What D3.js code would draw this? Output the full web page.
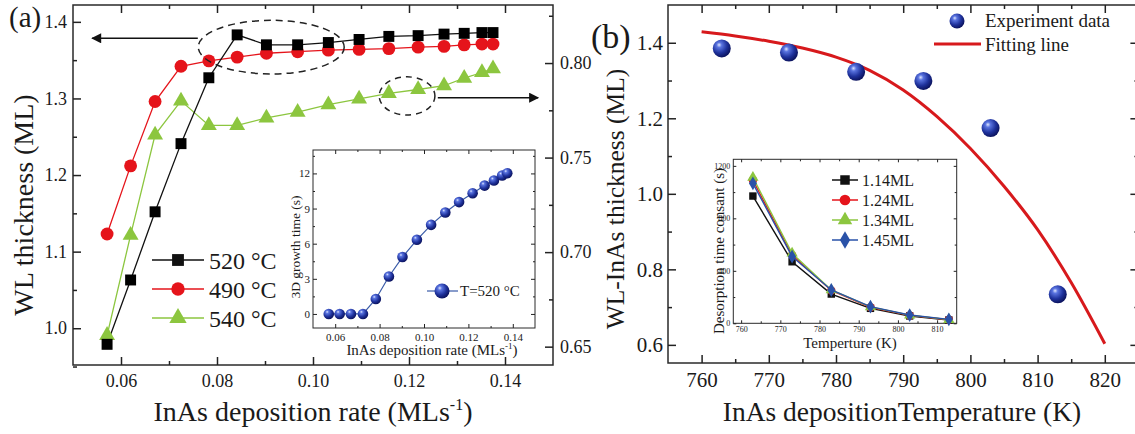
<!DOCTYPE html>
<html>
<head>
<meta charset="utf-8">
<script src="https://cdn.jsdelivr.net/npm/d3@7"></script>
<style>
body { margin: 0; background: #fff; }
svg { display: block; font-family: "Liberation Serif", "Times New Roman", serif; }
</style>
</head>
<body>
<svg id="fig" width="1135" height="434"></svg>
<script>
// ---- panel (a): WL thickness vs InAs deposition rate ----
var rateA  = [0.0571,0.0620,0.0671,0.0725,0.0783,0.0842,0.0903,0.0968,0.1032,0.1096,0.1158,0.1219,0.1273,0.1315,0.1352,0.1375];
var wl520  = [0.979,1.063,1.152,1.241,1.327,1.383,1.370,1.370,1.373,1.377,1.381,1.382,1.384,1.385,1.386,1.386];
var wl490  = [1.123,1.212,1.296,1.342,1.349,1.354,1.359,1.361,1.363,1.364,1.365,1.367,1.368,1.370,1.371,1.371];
var wl540  = [0.656,0.709,0.762,0.780,0.767,0.767,0.771,0.774,0.778,0.781,0.784,0.786,0.788,0.792,0.795,0.797]; // right axis
var legendA = ["520 °C", "490 °C", "540 °C"];

// inset (a): 3D growth time at 520 °C
var growth3D = [0,0,0,0,1.28,3.2,4.86,6.33,7.61,8.66,9.55,10.31,10.96,11.39,11.82,12.02];

// ---- panel (b): WL-InAs thickness vs temperature ----
var tempB  = [763,773,783,793,803,813];
var wlExp  = [1.385,1.374,1.323,1.299,1.174,0.734];
var fitT   = [760,765,770,775,780,785,790,795,800,805,810,815,820];
var fitWL  = [1.429,1.418,1.404,1.386,1.362,1.327,1.275,1.205,1.120,1.020,0.905,0.765,0.603];

// inset (b): desorption time constant
var tempIn = [763,773,783,793,803,813];
var desorb = {
  "1.14ML": [970,469,223,114,56,25],
  "1.24ML": [1090,520,250,122,60,27],
  "1.34ML": [1112,533,254,125,62,28],
  "1.45ML": [1067,508,254,127,63,30]
};
var insetNames = ["1.14ML","1.24ML","1.34ML","1.45ML"];

var svg = d3.select("#fig");
var defs = svg.append("defs");

var grad = defs.append("radialGradient").attr("id", "ball")
  .attr("cx", "38%").attr("cy", "35%").attr("r", "65%").attr("fx", "35%").attr("fy", "30%");
grad.append("stop").attr("offset", "0%").attr("stop-color", "#dfe6ff");
grad.append("stop").attr("offset", "22%").attr("stop-color", "#5a74e0");
grad.append("stop").attr("offset", "65%").attr("stop-color", "#1f329c");
grad.append("stop").attr("offset", "100%").attr("stop-color", "#0c1460");

defs.append("marker").attr("id", "arrow")
  .attr("viewBox", "0 0 10 10").attr("refX", 9).attr("refY", 5)
  .attr("markerWidth", 14).attr("markerHeight", 10).attr("markerUnits", "userSpaceOnUse")
  .attr("orient", "auto")
  .append("path").attr("d", "M0,0L10,5L0,10Z").attr("fill", "#111");

// inward ticks, optional labels
function tickLayer(g, axis, tr, vals, size, fmt, pad, fs, sw) {
  axis.tickValues(vals).tickSizeInner(-size).tickSizeOuter(0).tickPadding(pad)
    .tickFormat(fmt ? d3.format(fmt) : function() { return ""; });
  var s = g.append("g").attr("transform", tr).call(axis);
  s.attr("font-family", null).attr("font-size", fs);
  s.select(".domain").remove();
  s.selectAll("line").attr("stroke", "#222").attr("stroke-width", sw);
  s.selectAll("text").attr("fill", "#1a1a1a");
  return s;
}

function frame(g, x, y, o) {
  var xl = x.range()[0], xr = x.range()[1], yb = y.range()[0], yt = y.range()[1];
  g.append("rect").attr("x", xl).attr("y", yt).attr("width", xr - xl).attr("height", yb - yt)
    .attr("fill", o.fill || "none").attr("stroke", "#2a2a2a").attr("stroke-width", o.sw);
  tickLayer(g, d3.axisBottom(x), "translate(0," + yb + ")", o.xMajor, o.major, o.xFmt, o.xPad, o.fs, o.sw);
  tickLayer(g, d3.axisBottom(x), "translate(0," + yb + ")", o.xMinor, o.minor, null, 0, o.fs, o.sw);
  tickLayer(g, d3.axisTop(x), "translate(0," + yt + ")", o.xMajor, o.major, null, 0, o.fs, o.sw);
  tickLayer(g, d3.axisTop(x), "translate(0," + yt + ")", o.xMinor, o.minor, null, 0, o.fs, o.sw);
  tickLayer(g, d3.axisLeft(y), "translate(" + xl + ",0)", o.yMajor, o.major, o.yFmt, o.yPad, o.fs, o.sw);
  tickLayer(g, d3.axisLeft(y), "translate(" + xl + ",0)", o.yMinor, o.minor, null, 0, o.fs, o.sw);
  if (!o.noRight) {
    tickLayer(g, d3.axisRight(y), "translate(" + xr + ",0)", o.yMajor, o.major, null, 0, o.fs, o.sw);
    tickLayer(g, d3.axisRight(y), "translate(" + xr + ",0)", o.yMinor, o.minor, null, 0, o.fs, o.sw);
  }
}

function markers(g, shape, xs, ys, x, y, size, fill) {
  var sym = d3.symbol().type(shape).size(size);
  g.selectAll(null).data(xs).enter().append("path")
    .attr("d", sym)
    .attr("transform", function(d, i) { return "translate(" + x(d) + "," + y(ys[i]) + ")"; })
    .attr("fill", fill);
}

function series(g, xs, ys, x, y, color, sw) {
  var line = d3.line().x(function(d) { return x(d[0]); }).y(function(d) { return y(d[1]); });
  g.append("path").datum(d3.zip(xs, ys)).attr("d", line)
    .attr("fill", "none").attr("stroke", color).attr("stroke-width", sw);
}

function vtitle(g, txt, x, y, fs) {
  return g.append("text").attr("transform", "translate(" + x + "," + y + ") rotate(-90)")
    .attr("text-anchor", "middle").attr("font-size", fs).attr("fill", "#1a1a1a").text(txt);
}

// =============== panel (a) ===============
var ga = svg.append("g");
var xa  = d3.scaleLinear().domain([0.05, 0.15]).range([73, 553]);
var ya  = d3.scaleLinear().domain([0.952, 1.422]).range([365, 5]);
var ya2 = d3.scaleLinear().domain([0.6403, 0.8307]).range([365, 5]);

frame(ga, xa, ya, {
  xMajor: [0.06,0.08,0.10,0.12,0.14], xMinor: [0.07,0.09,0.11,0.13],
  yMajor: [1.0,1.1,1.2,1.3,1.4], yMinor: [0.95,1.05,1.15,1.25,1.35],
  major: 8, minor: 4, xFmt: ".2f", yFmt: ".1f", xPad: 9, yPad: 6, fs: 18, sw: 1.5, noRight: true
});
tickLayer(ga, d3.axisRight(ya2), "translate(553,0)", [0.65,0.70,0.75,0.80], 8, ".2f", 7, 18, 1.5);
tickLayer(ga, d3.axisRight(ya2), "translate(553,0)", [0.675,0.725,0.775,0.825], 4, null, 0, 18, 1.5);

series(ga, rateA, wl540, xa, ya2, "#8cc63f", 1.3);
series(ga, rateA, wl490, xa, ya, "#e5141b", 1.3);
series(ga, rateA, wl520, xa, ya, "#111", 1.3);
markers(ga, d3.symbolTriangle, rateA, wl540, xa, ya2, 110, "#8cc63f");
markers(ga, d3.symbolCircle, rateA, wl490, xa, ya, 130, "#e5141b");
markers(ga, d3.symbolSquare, rateA, wl520, xa, ya, 120, "#000");

// annotation ellipses and arrows
ga.append("ellipse").attr("cx", xa(0.0913)).attr("cy", ya(1.367))
  .attr("rx", xa(0.0913 + 0.0152) - xa(0.0913)).attr("ry", ya(1.367 - 0.035) - ya(1.367))
  .attr("fill", "none").attr("stroke", "#222").attr("stroke-width", 1.5).attr("stroke-dasharray", "7,5");
ga.append("ellipse").attr("cx", xa(0.1196)).attr("cy", ya2(0.7826))
  .attr("rx", xa(0.1196 + 0.0058) - xa(0.1196)).attr("ry", ya2(0.7826 - 0.0101) - ya2(0.7826))
  .attr("fill", "none").attr("stroke", "#222").attr("stroke-width", 1.5).attr("stroke-dasharray", "6,5");
ga.append("line").attr("x1", xa(0.0760)).attr("x2", xa(0.0540)).attr("y1", ya(1.3785)).attr("y2", ya(1.3785))
  .attr("stroke", "#111").attr("stroke-width", 1.5).attr("marker-end", "url(#arrow)");
ga.append("line").attr("x1", xa(0.1260)).attr("x2", xa(0.1469)).attr("y1", ya2(0.7817)).attr("y2", ya2(0.7817))
  .attr("stroke", "#111").attr("stroke-width", 1.5).attr("marker-end", "url(#arrow)");

// legend (a)
var legColors = ["#111", "#e5141b", "#8cc63f"];
var legShapes = [d3.symbolSquare, d3.symbolCircle, d3.symbolTriangle];
legendA.forEach(function(name, i) {
  var ly = 260 + i * 29;
  ga.append("line").attr("x1", 152).attr("x2", 204).attr("y1", ly).attr("y2", ly)
    .attr("stroke", legColors[i]).attr("stroke-width", 1.5);
  ga.append("path").attr("d", d3.symbol().type(legShapes[i]).size(i === 2 ? 130 : 140)())
    .attr("transform", "translate(178," + ly + ")").attr("fill", legColors[i]);
  ga.append("text").attr("x", 209).attr("y", ly + 8.5).attr("font-size", 24).attr("fill", "#1a1a1a").text(name);
});

vtitle(ga, "WL thickness (ML)", 33, 205, 28);
var xta = ga.append("text").attr("x", 313).attr("y", 421).attr("text-anchor", "middle")
  .attr("font-size", 28).attr("fill", "#1a1a1a");
xta.append("tspan").text("InAs deposition rate (MLs");
xta.append("tspan").attr("dy", -11).attr("font-size", 16).text("-1");
xta.append("tspan").attr("dy", 11).text(")");
ga.append("text").attr("x", 9).attr("y", 27).attr("font-size", 29).attr("fill", "#1a1a1a").text("(a)");

// inset (a)
var gi = svg.append("g");
var xi = d3.scaleLinear().domain([0.05, 0.15]).range([313, 535]);
var yi = d3.scaleLinear().domain([-1.2, 14]).range([328, 150]);
frame(gi, xi, yi, {
  xMajor: [0.06,0.08,0.10,0.12,0.14], xMinor: [0.07,0.09,0.11,0.13],
  yMajor: [0,3,6,9,12], yMinor: [1.5,4.5,7.5,10.5,13.5],
  major: 4, minor: 2, xFmt: ".2f", yFmt: "d", xPad: 5, yPad: 3, fs: 11, sw: 1, fill: "#fff"
});
series(gi, rateA, growth3D, xi, yi, "#3a5ba8", 1.2);
gi.selectAll(null).data(rateA).enter().append("circle")
  .attr("cx", function(d) { return xi(d); })
  .attr("cy", function(d, i) { return yi(growth3D[i]); })
  .attr("r", 5.3).attr("fill", "url(#ball)");
gi.append("line").attr("x1", 427).attr("x2", 458).attr("y1", 291).attr("y2", 291)
  .attr("stroke", "#3a5ba8").attr("stroke-width", 1.2);
gi.append("circle").attr("cx", 442).attr("cy", 291).attr("r", 7.5).attr("fill", "url(#ball)");
gi.append("text").attr("x", 460).attr("y", 296).attr("font-size", 15).attr("fill", "#1a1a1a").text("T=520 °C");
vtitle(gi, "3D growth time (s)", 300, 247, 13.5);
var xti = gi.append("text").attr("x", 432).attr("y", 355).attr("text-anchor", "middle")
  .attr("font-size", 15).attr("fill", "#1a1a1a");
xti.append("tspan").text("InAs deposition rate (MLs");
xti.append("tspan").attr("dy", -6).attr("font-size", 9).text("-1");
xti.append("tspan").attr("dy", 6).text(")");

// =============== panel (b) ===============
var gb = svg.append("g");
var xb = d3.scaleLinear().domain([755, 825]).range([668, 1138.4]);
var yb = d3.scaleLinear().domain([0.552, 1.50]).range([363, 5]);
frame(gb, xb, yb, {
  xMajor: [760,770,780,790,800,810,820], xMinor: [765,775,785,795,805,815],
  yMajor: [0.6,0.8,1.0,1.2,1.4], yMinor: [0.7,0.9,1.1,1.3],
  major: 8, minor: 4, xFmt: "d", yFmt: ".1f", xPad: 9, yPad: 5, fs: 21, sw: 1.5
});

var fitLine = d3.line().curve(d3.curveMonotoneX)
  .x(function(d) { return xb(d[0]); }).y(function(d) { return yb(d[1]); });
gb.append("path").datum(d3.zip(fitT, fitWL)).attr("d", fitLine)
  .attr("fill", "none").attr("stroke", "#d7191c").attr("stroke-width", 3);
gb.selectAll(null).data(tempB).enter().append("circle")
  .attr("cx", function(d) { return xb(d); })
  .attr("cy", function(d, i) { return yb(wlExp[i]); })
  .attr("r", 9).attr("fill", "url(#ball)");

// legend (b)
gb.append("circle").attr("cx", 957).attr("cy", 21).attr("r", 7.5).attr("fill", "url(#ball)");
gb.append("text").attr("x", 985).attr("y", 27).attr("font-size", 19).attr("fill", "#1a1a1a").text("Experiment data");
gb.append("line").attr("x1", 934).attr("x2", 981).attr("y1", 44).attr("y2", 44)
  .attr("stroke", "#d7191c").attr("stroke-width", 3);
gb.append("text").attr("x", 985).attr("y", 51).attr("font-size", 19).attr("fill", "#1a1a1a").text("Fitting line");

vtitle(gb, "WL-InAs thickness (ML)", 624, 199, 25.5);
gb.append("text").attr("x", 902).attr("y", 421).attr("text-anchor", "middle")
  .attr("font-size", 27.5).attr("fill", "#1a1a1a").text("InAs depositionTemperature (K)");
gb.append("text").attr("x", 591).attr("y", 48).attr("font-size", 34).attr("fill", "#1a1a1a").text("(b)");

// inset (b)
var gj = svg.append("g");
var xj = d3.scaleLinear().domain([758, 815]).range([733.3, 956.7]);
var yj = d3.scaleLinear().domain([0, 1250]).range([323.3, 159.3]);
frame(gj, xj, yj, {
  xMajor: [760,770,780,790,800,810], xMinor: [765,775,785,795,805],
  yMajor: [0,400,800,1200], yMinor: [200,600,1000],
  major: 3, minor: 2, xFmt: "d", yFmt: "d", xPad: 3, yPad: 3, fs: 8, sw: 1, fill: "#fff"
});
var inColors = {"1.14ML": "#111", "1.24ML": "#e5141b", "1.34ML": "#8cc63f", "1.45ML": "#2a52a8"};
var inShapes = {"1.14ML": d3.symbolSquare, "1.24ML": d3.symbolCircle, "1.34ML": d3.symbolTriangle, "1.45ML": d3.symbolDiamond};
insetNames.forEach(function(n) {
  series(gj, tempIn, desorb[n], xj, yj, inColors[n], 1.4);
  markers(gj, inShapes[n], tempIn, desorb[n], xj, yj, 55, inColors[n]);
});
insetNames.forEach(function(n, i) {
  var ly = 180 + i * 20;
  gj.append("line").attr("x1", 832).attr("x2", 858).attr("y1", ly).attr("y2", ly)
    .attr("stroke", inColors[n]).attr("stroke-width", 1.5);
  gj.append("path").attr("d", d3.symbol().type(inShapes[n]).size(90)())
    .attr("transform", "translate(845," + ly + ")").attr("fill", inColors[n]);
  gj.append("text").attr("x", 862).attr("y", ly + 5.5).attr("font-size", 16).attr("fill", "#1a1a1a").text(n);
});
vtitle(gj, "Desorption time consant (s)", 724, 251, 15);
gj.append("text").attr("x", 850).attr("y", 348).attr("text-anchor", "middle")
  .attr("font-size", 15).attr("fill", "#1a1a1a").text("Temperture (K)");
</script>
</body>
</html>
